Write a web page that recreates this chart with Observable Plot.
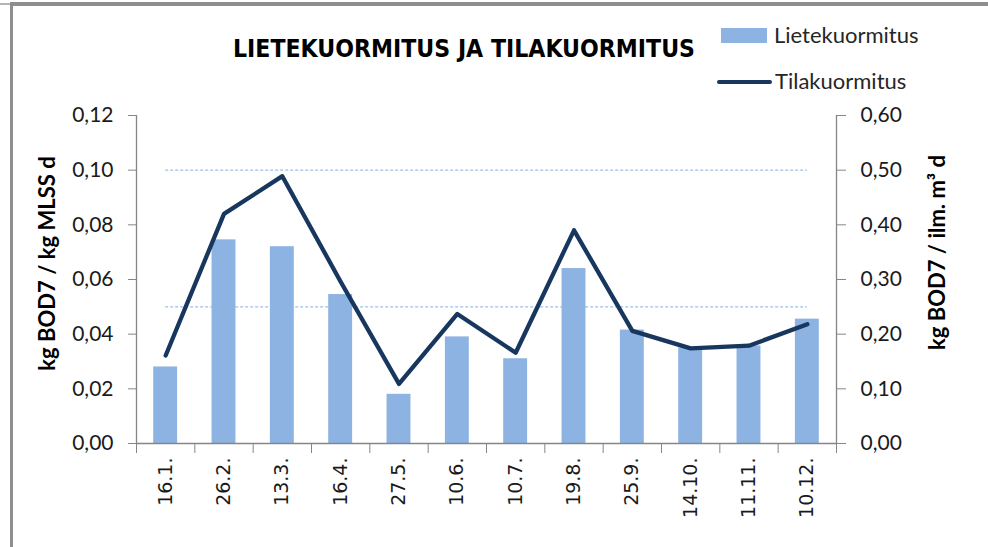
<!DOCTYPE html>
<html>
<head>
<meta charset="utf-8">
<script src="https://cdn.jsdelivr.net/npm/d3@7"></script>
<script src="https://cdn.jsdelivr.net/npm/@observablehq/plot@0.6"></script>
<style>
  html, body { margin: 0; padding: 0; background: #fff; }
  #wrap { position: relative; width: 988px; height: 547px; overflow: hidden; background: #fff; }
  .bdr { position: absolute; background: #8e8e8e; }
</style>
</head>
<body>
<div id="wrap">
  <div id="header"></div>
  <div id="chart"></div>
  <div class="bdr" style="left:10px;top:2px;width:978px;height:4px;"></div>
  <div class="bdr" style="left:10px;top:2px;width:3px;height:545px;"></div>
  <div class="bdr" style="left:0px;top:3px;width:10px;height:2px;background:#b5b5b5;"></div>
</div>
<script>
// ---- data ----
const dates = ["16.1.", "26.2.", "13.3.", "16.4.", "27.5.", "10.6.", "10.7.", "19.8.", "25.9.", "14.10.", "11.11.", "10.12."];
const lietekuormitus = [0.028, 0.0745, 0.072, 0.0545, 0.018, 0.039, 0.031, 0.064, 0.0415, 0.035, 0.0357, 0.0455];
const tilakuormitus = [0.161, 0.420, 0.489, 0.296, 0.109, 0.237, 0.166, 0.390, 0.206, 0.174, 0.179, 0.218];
const limitLines = [0.05, 0.10];
const leftTicks = [0, 0.02, 0.04, 0.06, 0.08, 0.10, 0.12];
const rightTicks = [0, 0.10, 0.20, 0.30, 0.40, 0.50, 0.60];
const titleText = "LIETEKUORMITUS JA TILAKUORMITUS";
const leftTitle = "kg BOD7 / kg MLSS d";
const rightTitle = "kg BOD7 / ilm. m³ d";
const seriesNames = ["Lietekuormitus", "Tilakuormitus"];

const ratio = 5; // right axis max 0.60 vs left 0.12
const rows = dates.map((d, i) => ({i, date: d, liete: lietekuormitus[i], tila: tilakuormitus[i]}));
const fmt = v => d3.format(".2f")(v).replace(".", ",");

const BAR = "#8DB3E2";
const LINE = "#17375E";
const AX = "#868686";
const TXT = "#1a1a1a";

// ---- header (title + legend) ----
const hdr = d3.select("#header").append("svg")
  .attr("width", 988).attr("height", 100).style("display", "block");
hdr.append("text")
  .attr("x", 464).attr("y", 57)
  .attr("text-anchor", "middle")
  .attr("font-family", "'Liberation Sans Narrow','DejaVu Sans Condensed','Liberation Sans',sans-serif")
  .attr("font-weight", "bold").attr("font-size", 25)
  .attr("textLength", 462).attr("lengthAdjust", "spacingAndGlyphs")
  .attr("fill", "#000")
  .text(titleText);
hdr.append("rect").attr("x", 721).attr("y", 28).attr("width", 46).attr("height", 15).attr("fill", BAR);
hdr.append("text").attr("x", 774).attr("y", 43)
  .attr("font-family", "Lato, 'Open Sans', sans-serif").attr("font-size", 22).attr("fill", "#262626")
  .text(seriesNames[0]);
hdr.append("line").attr("x1", 719).attr("x2", 770).attr("y1", 82).attr("y2", 82)
  .attr("stroke", LINE).attr("stroke-width", 4).attr("stroke-linecap", "round");
hdr.append("text").attr("x", 775).attr("y", 89)
  .attr("font-family", "Lato, 'Open Sans', sans-serif").attr("font-size", 22).attr("fill", "#262626")
  .text(seriesNames[1]);

// ---- chart ----
const n = dates.length;
const chart = Plot.plot({
  width: 988,
  height: 447,
  marginTop: 15,
  marginBottom: 104,
  marginLeft: 136,
  marginRight: 152,
  style: {fontFamily: "Lato, 'Open Sans', sans-serif", background: "#fff"},
  x: {type: "linear", domain: [-0.5, n - 0.5]},
  y: {domain: [0, 0.12]},
  marks: [
    // limit lines (dotted)
    Plot.ruleY(limitLines, {x1: 0, x2: n - 1, stroke: "#9DC0EA", strokeWidth: 1.3, strokeDasharray: "3,2"}),
    // bars
    Plot.rectY(rows, {x1: d => d.i - 0.205, x2: d => d.i + 0.205, y1: 0, y2: "liete", fill: BAR}),
    // line on right axis scale
    Plot.lineY(rows, {x: "i", y: d => d.tila / ratio, stroke: LINE, strokeWidth: 4.3, strokeLinejoin: "round", strokeLinecap: "round"}),
    // axis lines
    Plot.ruleX([-0.5, n - 0.5], {stroke: AX, strokeWidth: 1.3}),
    Plot.ruleY([0], {stroke: AX, strokeWidth: 1.3}),
    // left axis ticks and labels
    Plot.axisY({ticks: leftTicks, tickSize: 8, tickFormat: () => "", color: AX, label: null}),
    Plot.axisY({ticks: leftTicks, tickSize: 0, tickPadding: 23, tickFormat: fmt, fontSize: 21, color: TXT, label: null}),
    // right axis ticks and labels
    Plot.axisY({anchor: "right", ticks: rightTicks.map(v => v / ratio), tickSize: 9, tickFormat: () => "", color: AX, label: null}),
    Plot.axisY({anchor: "right", ticks: rightTicks.map(v => v / ratio), tickSize: 0, tickPadding: 24, tickFormat: v => fmt(v * ratio), fontSize: 21, color: TXT, label: null}),
    // x axis: boundary ticks + rotated labels
    Plot.axisX({ticks: d3.range(n + 1).map(i => i - 0.5), tickSize: 10, tickFormat: () => "", color: AX, label: null}),
    Plot.axisX({ticks: d3.range(n), tickSize: 0, tickPadding: 14, tickRotate: -90, tickFormat: i => dates[i], fontSize: 19, fontFamily: "'DejaVu Sans', sans-serif", color: TXT, label: null}),
    // axis titles
    Plot.text([leftTitle], {frameAnchor: "left", text: d => d, rotate: -90, dx: -89, dy: -16, textAnchor: "middle", fontWeight: "bold", fontSize: 22, fill: "#000"}),
    Plot.text([rightTitle], {frameAnchor: "right", text: d => d, rotate: -90, dx: 101, dy: -27, textAnchor: "middle", fontWeight: "bold", fontSize: 22, fill: "#000"})
  ]
});
chart.style.display = "block";
document.getElementById("chart").appendChild(chart);
</script>
</body>
</html>
